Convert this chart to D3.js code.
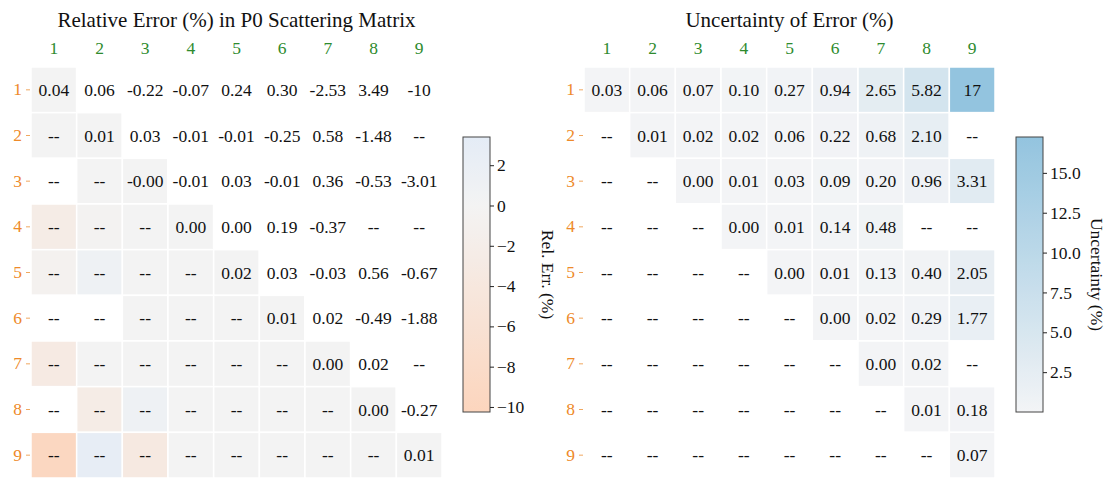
<!DOCTYPE html>
<html>
<head>
<meta charset="utf-8">
<script src="https://cdn.jsdelivr.net/npm/d3@7"></script>
<style>
  body { margin: 0; background: #fff; }
  svg text { font-family: "Liberation Serif", "Times New Roman", Times, "DejaVu Serif", serif !important; }
</style>
</head>
<body>
<div id="chart"></div>
<script>
// Labels for both matrices
var labels = ["1", "2", "3", "4", "5", "6", "7", "8", "9"];

// Relative error (%), upper triangle incl. diagonal, row by row (null = "--")
var relErrUpper = [
    [0.04, 0.06, -0.22, -0.07, 0.24, 0.30, -2.53, 3.49, -10],
    [0.01, 0.03, -0.01, -0.01, -0.25, 0.58, -1.48, null],
    [-0.001, -0.01, 0.03, -0.01, 0.36, -0.53, -3.01],
    [0.00, 0.00, 0.19, -0.37, null, null],
    [0.02, 0.03, -0.03, 0.56, -0.67],
    [0.01, 0.02, -0.49, -1.88],
    [0.00, 0.02, null],
    [0.00, -0.27],
    [0.01]
];

// Shading of the lower triangle of the left matrix (values not printed, null = blank)
var relErrLower = [
    [],
    [0.0],
    [null, 0.0],
    [-2.5, -0.3, 0.0],
    [-0.8, 1.2, 0.0, 0.0],
    [null, null, 0.0, 0.0, 0.0],
    [-3.0, 0.0, 0.0, 0.0, 0.0, 0.0],
    [null, -2.5, 1.2, 0.0, 0.0, 0.0, 0.0],
    [-9.5, 2.8, -3.5, 0.0, 0.0, 0.0, 0.0, 0.0]
];

// Uncertainty of error (%), upper triangle incl. diagonal (null = "--")
var uncUpper = [
    [0.03, 0.06, 0.07, 0.10, 0.27, 0.94, 2.65, 5.82, 17.25],
    [0.01, 0.02, 0.02, 0.06, 0.22, 0.68, 2.10, null],
    [0.00, 0.01, 0.03, 0.09, 0.20, 0.96, 3.31],
    [0.00, 0.01, 0.14, 0.48, null, null],
    [0.00, 0.01, 0.13, 0.40, 2.05],
    [0.00, 0.02, 0.29, 1.77],
    [0.00, 0.02, null],
    [0.01, 0.18],
    [0.07]
];

var relErrTicks = [2, 0, -2, -4, -6, -8, -10];
var uncTicks = [2.5, 5.0, 7.5, 10.0, 12.5, 15.0];

// Layout
var W = 1108, H = 479;
var gridTop = 67, gridSize = 411;
var cbTop = 137, cbHeight = 275, cbWidth = 27;
var serif = "'Liberation Serif', 'Times New Roman', Times, 'DejaVu Serif', serif";

var svg = d3.select("#chart").append("svg")
    .attr("width", W)
    .attr("height", H)
    .attr("font-family", serif);

function fmtCell(v) {
    if (v === null) return "--";
    return Math.abs(v) >= 10 ? v.toFixed(0) : v.toFixed(2);
}

// Build cell list for a panel
function buildCells(upper, lower, shadeUpper) {
    var cells = [];
    for (var i = 0; i < 9; i++) {
        for (var j = 0; j < 9; j++) {
            var c = { row: labels[i], col: labels[j] };
            if (j >= i) {
                var v = upper[i][j - i];
                c.text = fmtCell(v);
                c.shade = (shadeUpper || j === i) ? v : null;
            } else {
                c.text = "--";
                c.shade = lower ? lower[i][j] : null;
            }
            cells.push(c);
        }
    }
    return cells;
}

function drawPanel(opts) {
    var g = svg.append("g").attr("transform", "translate(" + opts.x0 + "," + gridTop + ")");

    var x = d3.scaleBand().domain(labels).range([0, gridSize]);
    var y = d3.scaleBand().domain(labels).range([0, gridSize]);

    var cells = g.selectAll(".cell")
        .data(opts.cells)
        .enter().append("g")
        .attr("transform", function (d) { return "translate(" + x(d.col) + "," + y(d.row) + ")"; });

    cells.append("rect")
        .attr("width", x.bandwidth())
        .attr("height", y.bandwidth())
        .attr("fill", function (d) { return d.shade === null ? "#ffffff" : opts.color(d.shade); })
        .attr("stroke", "#ffffff")
        .attr("stroke-width", 1.5);

    cells.append("text")
        .attr("x", x.bandwidth() / 2)
        .attr("y", y.bandwidth() / 2)
        .attr("dy", "0.35em")
        .attr("text-anchor", "middle")
        .attr("font-family", serif)
        .style("font-size", "17.5px")
        .attr("fill", "#111")
        .text(function (d) { return d.text; });

    // Column labels (green, on top)
    var xAxis = g.append("g")
        .call(d3.axisTop(x).tickSize(0).tickPadding(13))
        .attr("font-family", serif);
    xAxis.select(".domain").remove();
    xAxis.selectAll("text")
        .style("font-size", "17.5px")
        .attr("fill", "#2e8b2e");

    // Row labels (orange, left)
    var yAxis = g.append("g")
        .attr("transform", "translate(-1,0)")
        .call(d3.axisLeft(y).tickSize(4).tickPadding(4))
        .attr("font-family", serif);
    yAxis.select(".domain").remove();
    yAxis.selectAll("line").attr("stroke", "#f0a860");
    yAxis.selectAll("text")
        .style("font-size", "17.5px")
        .attr("fill", "#ee8a2a");

    // Title
    svg.append("text")
        .attr("x", opts.x0 + gridSize / 2)
        .attr("y", 27)
        .attr("text-anchor", "middle")
        .style("font-size", "21px")
        .attr("fill", "#111")
        .text(opts.title);

    // Colorbar
    var cb = svg.append("g").attr("transform", "translate(" + opts.cbX + "," + cbTop + ")");
    var cbScale = d3.scaleLinear().domain(opts.cbDomain).range([cbHeight, 0]);
    var gradId = "grad" + opts.id;
    var grad = svg.append("defs").append("linearGradient")
        .attr("id", gradId)
        .attr("x1", 0).attr("y1", 1).attr("x2", 0).attr("y2", 0);
    d3.range(0, 1.0001, 0.05).forEach(function (t) {
        var v = opts.cbDomain[0] + t * (opts.cbDomain[1] - opts.cbDomain[0]);
        grad.append("stop").attr("offset", t).attr("stop-color", opts.color(v));
    });
    cb.append("rect")
        .attr("width", cbWidth)
        .attr("height", cbHeight)
        .attr("fill", "url(#" + gradId + ")")
        .attr("stroke", "#444")
        .attr("stroke-width", 1);
    var cbAxis = cb.append("g")
        .attr("transform", "translate(" + cbWidth + ",0)")
        .call(d3.axisRight(cbScale).tickValues(opts.ticks).tickFormat(opts.tickFormat).tickSize(4).tickPadding(3))
        .attr("font-family", serif);
    cbAxis.select(".domain").remove();
    cbAxis.selectAll("line").attr("stroke", "#222");
    cbAxis.selectAll("text")
        .style("font-size", "17.5px")
        .attr("fill", "#111");

    svg.append("text")
        .attr("transform", "translate(" + opts.cbLabelX + "," + (cbTop + cbHeight / 2) + ") rotate(90)")
        .attr("text-anchor", "middle")
        .attr("dy", "0.35em")
        .style("font-size", "17.5px")
        .attr("fill", "#111")
        .text(opts.cbLabel);
}

// Left: relative error
var relColor = d3.scaleLinear()
    .domain([-10.25, 0, 3.4])
    .range(["#fcd5bd", "#f3f3f3", "#e4ecf6"]);

drawPanel({
    id: "rel",
    x0: 31,
    title: "Relative Error (%) in P0 Scattering Matrix",
    cells: buildCells(relErrUpper, relErrLower, false),
    color: relColor,
    cbX: 463,
    cbDomain: [-10.25, 3.4],
    ticks: relErrTicks,
    tickFormat: d3.format("d"),
    cbLabelX: 548,
    cbLabel: "Rel. Err. (%)"
});

// Right: uncertainty
var uncColor = d3.scaleLinear()
    .domain([0, 17.25])
    .range(["#f3f4f6", "#93c4df"]);

drawPanel({
    id: "unc",
    x0: 584,
    title: "Uncertainty of Error (%)",
    cells: buildCells(uncUpper, null, true),
    color: uncColor,
    cbX: 1016,
    cbDomain: [0, 17.25],
    ticks: uncTicks,
    tickFormat: d3.format(".1f"),
    cbLabelX: 1097,
    cbLabel: "Uncertainty (%)"
});
</script>
</body>
</html>
